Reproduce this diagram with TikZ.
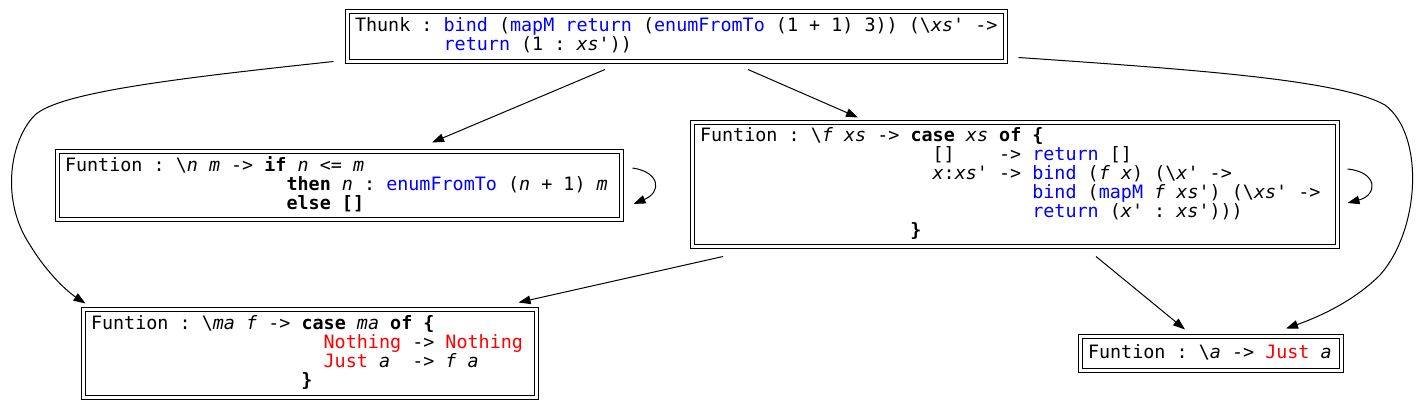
\documentclass[tikz,border=0pt]{standalone}
\usepackage{fontspec}
\usepackage{xcolor}
\usetikzlibrary{arrows.meta,calc}
\newfontfamily\hs{DejaVu Sans Mono}
\definecolor{hsblue}{RGB}{0,0,255}
\definecolor{hsred}{RGB}{255,0,0}
\newcommand\kw[1]{\textbf{#1}}
\newcommand\fn[1]{\textcolor{hsblue}{#1}}
\newcommand\cn[1]{\textcolor{hsred}{#1}}
\newcommand\vr[1]{\textit{#1}}
\newcommand\ind[1]{\hspace*{#1\fontcharwd\font`\x}}
\newcommand\codeln[1]{\mbox{\spaceskip=\fontcharwd\font`\x\relax\xspaceskip=\spaceskip\strut#1}}
\newcommand\codefont{\hs\fontsize{18.4}{19}\selectfont\frenchspacing
  \baselineskip=19pt\lineskiplimit=-40pt\lineskip=0pt}
\tikzset{
  box/.style={draw, double, double distance=3pt, line width=1pt, inner xsep=8pt, inner ysep=0pt,
    align=flush left, anchor=center, font=\codefont},
  arr/.style={-{Triangle[length=12pt,width=8.5pt]}, line width=1pt}
}
\begin{document}
\begin{tikzpicture}[x=1pt,y=-1pt]
\useasboundingbox (0,0) rectangle (1417,411);
\node[box, minimum width=658pt, text width=642pt, minimum height=50pt] (top) at (676,37)
 {\codeln{Thunk : \fn{bind} (\fn{mapM} \fn{return} (\fn{enumFromTo} (1 + 1) 3)) (\textbackslash\vr{xs}' ->}\\
  \codeln{\ind{8}\fn{return} (1 : \vr{xs}'))}};
\node[box, minimum width=564pt, text width=548pt, minimum height=68pt] (n2) at (339,186)
 {\codeln{Funtion : \textbackslash\vr{n} \vr{m} -> \kw{if} \vr{n} <= \vr{m}}\\
  \codeln{\ind{20}\kw{then} \vr{n} : \fn{enumFromTo} (\vr{n} + 1) \vr{m}}\\
  \codeln{\ind{20}\kw{else []}}};
\node[box, minimum width=645pt, text width=629pt, minimum height=124pt] (n3) at (1014.5,185)
 {\codeln{Funtion : \textbackslash\vr{f} \vr{xs} -> \kw{case} \vr{xs} \kw{of \{}}\\
  \codeln{\ind{21}[]\ind{4}-> \fn{return} []}\\
  \codeln{\ind{21}\vr{x}:\vr{xs}' -> \fn{bind} (\vr{f} \vr{x}) (\textbackslash\vr{x}' ->}\\
  \codeln{\ind{30}\fn{bind} (\fn{mapM} \vr{f} \vr{xs}') (\textbackslash\vr{xs}' ->}\\
  \codeln{\ind{30}\fn{return} (\vr{x}' : \vr{xs}')))}\\
  \codeln{\ind{19}\kw{\}}}};
\node[box, minimum width=453pt, text width=437pt, minimum height=88pt] (n4) at (309.5,354)
 {\codeln{Funtion : \textbackslash\vr{ma} \vr{f} -> \kw{case} \vr{ma} \kw{of \{}}\\
  \codeln{\ind{21}\cn{Nothing} -> \cn{Nothing}}\\
  \codeln{\ind{21}\cn{Just} \vr{a}\ind{2}-> \vr{f} \vr{a}}\\
  \codeln{\ind{19}\kw{\}}}};
\node[box, minimum width=261pt, text width=245pt, minimum height=34pt] (n5) at (1210.5,354)
 {\codeln{Funtion : \textbackslash\vr{a} -> \cn{Just} \vr{a}}};
% edges
\draw[arr] ($(top.south west)+(-13,-1)$) .. controls (180,78) and (60,92) .. (35,115)
  .. controls (10,140) and (0,200) .. (30,245)
  .. controls (45,270) and (65,290) .. ($(n4.north west)+(3,-6)$);
\draw[arr] ($(top.south)+(-71,7)$) -- ($(n2.north)+(93,-9)$);
\draw[arr] ($(top.south)+(72,7)$) -- ($(n3.north)+(-156.5,-5)$);
\draw[arr] ($(top.south east)+(13,-5)$) .. controls (1200,70) and (1340,80) .. (1385,105)
  .. controls (1425,135) and (1420,230) .. (1380,275)
  .. controls (1350,305) and (1310,320) .. ($(n5.north)+(75.5,-8)$);
\draw[arr] ($(n2.east)+(11,-18)$) .. controls (660,172) and (662,192) .. ($(n2.east)+(12,18)$);
\draw[arr] ($(n3.east)+(10,-16)$) .. controls (1378,172) and (1378,195) .. ($(n3.east)+(10,18)$);
\draw[arr] ($(n3.south)+(-291.5,9)$) -- ($(n4.north east)+(-18,-7)$);
\draw[arr] ($(n3.south)+(81.5,9)$) -- ($(n5.north)+(-25.5,-7)$);
\end{tikzpicture}
\end{document}
